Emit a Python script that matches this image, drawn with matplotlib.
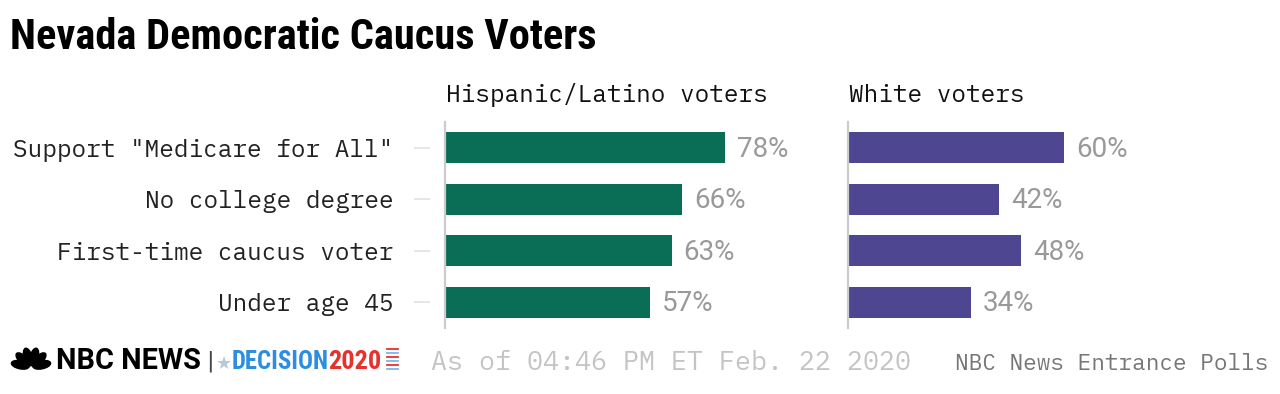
import math
import matplotlib
matplotlib.use("Agg")
import matplotlib.pyplot as plt
from matplotlib.patches import Ellipse
import matplotlib.transforms as mtransforms

categories = ['Support "Medicare for All"', 'No college degree',
              'First-time caucus voter', 'Under age 45']
hispanic = [78, 66, 63, 57]
white = [60, 42, 48, 34]
panel_titles = ["Hispanic/Latino voters", "White voters"]
title = "Nevada Democratic Caucus Voters"
timestamp = "As of 04:46 PM ET Feb. 22 2020"
source = "NBC News Entrance Polls"

W, H = 1280, 394
fig = plt.figure(figsize=(W / 100, H / 100), dpi=100)

def fx(px):
    return px / W

def fy(py):
    return 1 - py / H

MONO = ["IBM Plex Mono", "DejaVu Sans Mono"]
COND = ["Roboto Condensed", "DejaVu Sans"]
GREEN = "#0a6e57"
PURPLE = "#4f4691"
SPINE = "#cccccc"

ax_top, ax_bot = 122, 328
ax_w = 355
xmax = ax_w / 3.58

def make_panel(left_px, values, color, header, show_labels):
    ax = fig.add_axes([fx(left_px), fy(ax_bot), fx(ax_w), (ax_bot - ax_top) / H])
    y = list(range(len(categories)))
    ax.barh(y, values, height=0.6, color=color, left=0.3)
    ax.set_xlim(0, xmax)
    ax.set_ylim(len(categories) - 0.5, -0.5)
    for s in ["top", "right", "bottom"]:
        ax.spines[s].set_visible(False)
    ax.spines["left"].set_color(SPINE)
    ax.spines["left"].set_linewidth(1.6)
    ax.set_xticks([])
    ax.set_yticks(y)
    if show_labels:
        ax.set_yticklabels(categories, family=MONO, fontsize=17.6, color="#222222")
        ax.tick_params(axis="y", length=0, pad=37)
        trans = mtransforms.blended_transform_factory(ax.transAxes, ax.transData)
        ax.hlines(y, -31 / ax_w, -15 / ax_w, colors="#e2e2e2", linewidth=1.2,
                  transform=trans, clip_on=False)
    else:
        ax.set_yticklabels([])
        ax.tick_params(axis="y", length=0)
    for yi, v in zip(y, values):
        ax.annotate(f"{v}%", xy=(v, yi), xytext=(9.5, -1), textcoords="offset points",
                    va="center", ha="left", family=["Roboto", "DejaVu Sans"],
                    fontsize=20, color="#999999")
    fig.text(fx(left_px + 1), fy(102), header, family=MONO, fontsize=17.6,
             color="#111111", va="baseline", ha="left")
    return ax

make_panel(445, hispanic, GREEN, panel_titles[0], True)
make_panel(848, white, PURPLE, panel_titles[1], False)

# Title
fig.text(fx(10), fy(49), title, family=COND, weight="bold",
         fontsize=30.5, color="#000000", va="baseline", ha="left")

# Footer
fig.text(fx(431), fy(370), timestamp, family=MONO, fontsize=19.2, color="#c4c4c4",
         va="baseline", ha="left")
fig.text(fx(1268), fy(370), source, family=MONO, fontsize=16.4, color="#777777",
         va="baseline", ha="right")

# Logo: peacock
lax = fig.add_axes([fx(8), fy(370), fx(46), 26 / H])
lax.set_xlim(-23, 23)
lax.set_ylim(-2, 24)
lax.axis("off")
for ang in [168, 136, 106, 74, 44, 12]:
    r = math.radians(ang)
    cx, cy = 11 * math.cos(r), 11 * math.sin(r) * 0.95 + 1
    lax.add_patch(Ellipse((cx, cy), 18, 8, angle=ang, color="#000000"))

fig.text(fx(56), fy(369), "NBC NEWS", family=["Roboto", "DejaVu Sans"], weight="bold",
         fontsize=20.8, color="#000000", va="baseline", ha="left")
fig.text(fx(206), fy(367), "|", family="DejaVu Sans", fontsize=16,
         color="#444444", va="baseline", ha="left")
fig.text(fx(216), fy(369), "\u2605", family="DejaVu Sans", fontsize=13,
         color="#b9c7d6", va="baseline", ha="left")
fig.text(fx(232), fy(369), "DECISION", family=COND, weight="bold",
         fontsize=17.8, color="#2b8ee0", va="baseline", ha="left")
fig.text(fx(328), fy(369), "2020", family=COND, weight="bold",
         fontsize=19, color="#e5322d", va="baseline", ha="left")
for i, yy in enumerate([349, 353, 357, 361, 365, 369]):
    fig.add_artist(plt.Line2D([fx(387), fx(398)], [fy(yy), fy(yy)],
                              color="#e5322d" if i % 2 == 0 else "#7fb4e6",
                              linewidth=1.3))

fig.savefig("out.png", dpi=100)
